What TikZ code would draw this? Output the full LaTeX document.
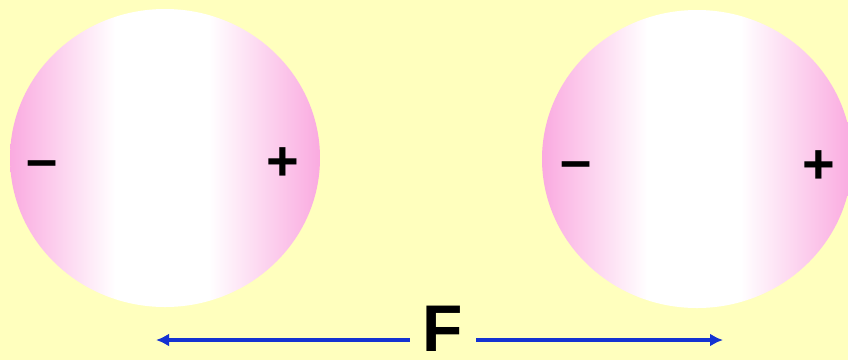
\documentclass[tikz,border=0pt]{standalone}
\usepackage{fontspec}
\setmainfont{Liberation Sans}
\usetikzlibrary{shapes.geometric}
\usetikzlibrary{positioning}
\usetikzlibrary{calc}
\usetikzlibrary{arrows.meta}

\definecolor{paper}{RGB}{255,255,190}
\definecolor{ballpink}{RGB}{250,170,224}
\definecolor{forceblue}{RGB}{20,50,210}

\pgfdeclarehorizontalshading{ballshade}{100bp}{color(0bp)=(ballpink); color(25bp)=(ballpink); color(42bp)=(white); color(57bp)=(white); color(75bp)=(ballpink); color(100bp)=(ballpink)}

\begin{document}
\begin{tikzpicture}[x=1pt, y=-1pt,
  ball/.style={ellipse, minimum width=310pt, minimum height=298pt, inner sep=0pt, shade, shading=ballshade},
  plussign/.style={inner sep=0pt, font=\bfseries\fontsize{56}{56}\selectfont},
  minussign/.style={inner sep=0pt, font=\bfseries\fontsize{56}{56}\selectfont},
  forcelbl/.style={inner xsep=13pt, inner ysep=0pt, font=\bfseries\fontsize{66}{66}\selectfont},
  forcearrow/.style={draw=forceblue, line width=3.5pt, -{Latex[length=13pt,width=13pt]}},
]
  \clip (0,0) rectangle (848,360);
  \fill[paper] (0,0) rectangle (848,360);

  % the two balls
  \node[ball] (lball) at (165,158) {};
  \node[ball] (rball) at (697,159) {};

  % charges
  \node[minussign] (lminus) at ($(lball)+(-123,12)$) {–};
  \node[plussign]  (lplus)  at ($(lball)+(118,6)$) {+};
  \node[minussign] (rminus) at ($(rball)+(-121,12)$) {–};
  \node[plussign]  (rplus)  at ($(rball)+(122,8)$) {+};

  % force
  \node[forcelbl] (force) at (443,329) {F};
  \coordinate (ltip) at (156,340);
  \coordinate (rtip) at (723,340);

  \draw[forcearrow] (force.west |- ltip) -- (ltip);
  \draw[forcearrow] (force.east |- rtip) -- (rtip);
\end{tikzpicture}
\end{document}
